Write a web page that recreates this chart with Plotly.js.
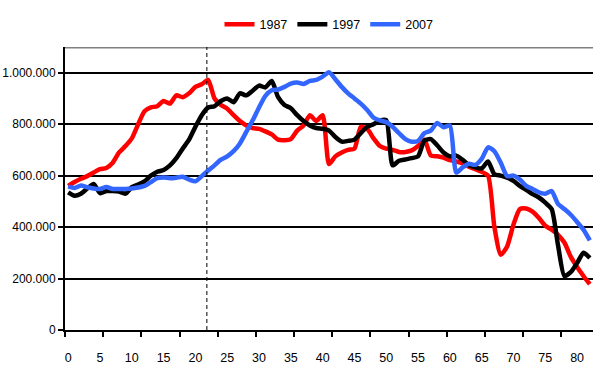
<!DOCTYPE html>
<html>
<head>
<meta charset="utf-8">
<script src="https://cdn.plot.ly/plotly-3.0.1.min.js"></script>
<style>
  html, body { margin: 0; padding: 0; background: #ffffff; }
  #chart { width: 604px; height: 376px; }
</style>
</head>
<body>
<div id="chart"></div>
<script>
// Ages 0..82 (categories)
const ages = Array.from({length: 83}, (_, i) => i);
const xTickLabels = [0, 5, 10, 15, 20, 25, 30, 35, 40, 45, 50, 55, 60, 65, 70, 75, 80];
const yTickValues = [0, 200000, 400000, 600000, 800000, 1000000];
const seriesNames = ['1987', '1997', '2007'];
const markerAge = 21.8;

const values1987 = [
  560, 575, 588, 598, 612, 625, 630, 650, 690, 715,
  745, 800, 850, 865, 870, 890, 880, 912, 905, 920,
  945, 955, 972, 900, 875, 860, 835, 812, 795, 785,
  782, 772, 760, 740, 738, 742, 775, 795, 835, 812,
  835, 645, 675, 690, 700, 705, 790, 782, 745, 715,
  705, 700, 692, 692, 698, 715, 740, 678, 675, 670,
  660, 655, 648, 635, 625, 615, 600, 400, 292, 325,
  410, 470, 472, 460, 435, 405, 390, 370, 340, 285,
  245, 210, 178
].map(v => v * 1000);

const values1997 = [
  535, 522, 530, 550, 568, 532, 540, 540, 538, 530,
  555, 565, 578, 600, 615, 622, 640, 668, 705, 740,
  790, 835, 865, 870, 890, 900, 885, 920, 912, 930,
  950, 943, 968, 905, 875, 862, 835, 812, 795, 785,
  782, 775, 750, 732, 735, 740, 765, 790, 800, 814,
  815, 640, 658, 663, 668, 675, 736, 742, 718, 690,
  675, 678, 662, 640, 632, 628, 655, 605, 600, 592,
  580, 560, 545, 528, 515, 495, 470, 330, 210, 225,
  260, 300, 280
].map(v => v * 1000);

const values2007 = [
  558, 552, 562, 555, 550, 548, 556, 548, 548, 548,
  550, 554, 560, 575, 590, 593, 590, 592, 596, 585,
  578, 598, 620, 640, 662, 675, 695, 725, 770, 815,
  865, 910, 932, 935, 945, 958, 962, 956, 968, 972,
  985, 1002, 975, 945, 920, 900, 880, 855, 825, 815,
  808, 790, 765, 742, 732, 735, 765, 775, 805, 788,
  795, 612, 632, 646, 642, 665, 710, 695, 650, 598,
  600, 585, 560, 548, 535, 530, 540, 490, 470, 448,
  420, 390, 348
].map(v => v * 1000);

const colors = ['#ff0000', '#000000', '#3366ff'];
const allValues = [values1987, values1997, values2007];

const FONT = '"Liberation Sans", Arial, sans-serif';

const traces = allValues.map((vals, i) => ({
  type: 'scatter',
  mode: 'lines',
  name: seriesNames[i],
  x: ages,
  y: vals,
  line: { color: colors[i], width: 4.5, shape: 'spline', smoothing: 0.6 },
  hoverinfo: 'skip'
}));

const layout = {
  width: 604,
  height: 376,
  margin: { l: 65, r: 11, t: 46, b: 46 },
  paper_bgcolor: '#ffffff',
  plot_bgcolor: '#ffffff',
  separators: ',.',
  font: { family: FONT, size: 12, color: '#000000' },
  showlegend: true,
  legend: {
    orientation: 'h',
    x: 0.5, xanchor: 'center',
    y: 1.075, yanchor: 'middle',
    font: { family: FONT, size: 12.5, color: '#000000' },
    itemwidth: 30,
    tracegroupgap: 0,
    bgcolor: 'rgba(0,0,0,0)'
  },
  xaxis: {
    range: [-0.5, 82.5],
    tickmode: 'array',
    tickvals: xTickLabels,
    ticktext: xTickLabels.map(String),
    ticks: 'outside',
    ticklen: 15,
    tickcolor: 'rgba(0,0,0,0)',
    showgrid: false,
    zeroline: false,
    showline: true,
    linecolor: '#000000',
    linewidth: 2,
    tickfont: { family: FONT, size: 12.5, color: '#000000' },
    minor: {
      tick0: -0.5,
      dtick: 6,
      ticks: 'outside',
      ticklen: 5,
      tickwidth: 2,
      tickcolor: '#000000',
      showgrid: false
    },
    fixedrange: true
  },
  yaxis: {
    range: [0, 1100000],
    tickmode: 'array',
    tickvals: yTickValues,
    tickformat: ',d',
    ticks: 'outside',
    ticklen: 5,
    tickwidth: 2,
    tickcolor: '#000000',
    showgrid: true,
    gridcolor: '#000000',
    gridwidth: 2,
    zeroline: false,
    showline: true,
    linecolor: '#000000',
    linewidth: 2,
    tickfont: { family: FONT, size: 12, color: '#000000' },
    fixedrange: true
  },
  shapes: [
    {
      type: 'line', xref: 'paper', yref: 'y',
      x0: 0, x1: 1, y0: 1100000, y1: 1100000,
      line: { color: '#808080', width: 3 }
    },
    {
      type: 'line', xref: 'x', yref: 'paper',
      x0: markerAge, x1: markerAge, y0: 0, y1: 1,
      line: { color: '#000000', width: 1, dash: '4px,3px' }
    }
  ]
};

Plotly.newPlot('chart', traces, layout, { staticPlot: true, displayModeBar: false });
</script>
</body>
</html>
